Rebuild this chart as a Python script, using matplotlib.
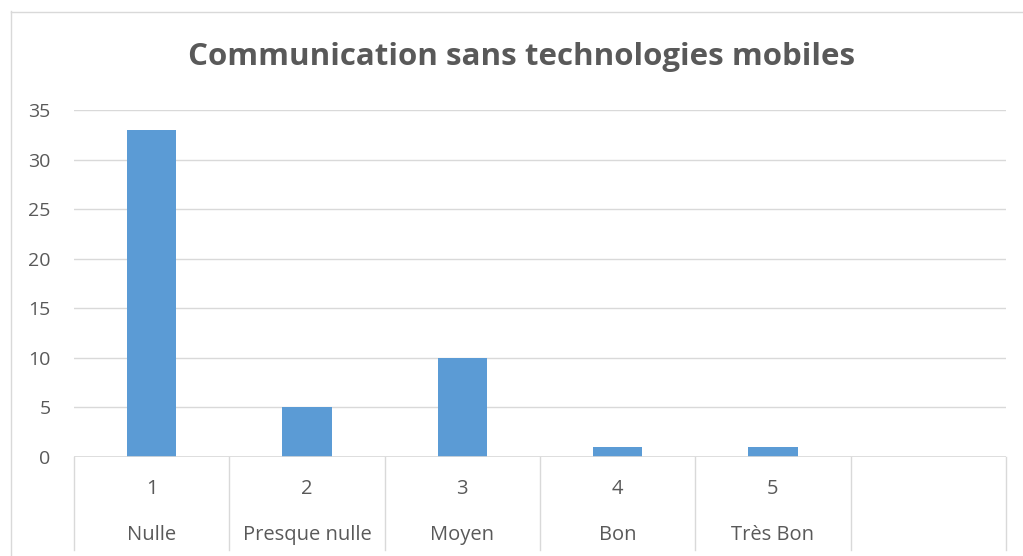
import matplotlib
matplotlib.use("Agg")
import matplotlib.pyplot as plt
from matplotlib.lines import Line2D
import matplotlib.transforms as mtransforms

codes = ["1", "2", "3", "4", "5", ""]
labels = ["Nulle", "Presque nulle", "Moyen", "Bon", "Très Bon", ""]
values = [33, 5, 10, 1, 1, 0]
yticks = [0, 5, 10, 15, 20, 25, 30, 35]
title = "Communication sans technologies mobiles"

W, H = 1023, 556
plt.rcParams['font.family'] = ['Open Sans', 'DejaVu Sans']
fig = plt.figure(figsize=(W / 100, H / 100), dpi=100)
fig.patch.set_facecolor("white")

def fx(px):
    return px / W

def fy(py):
    return 1 - py / H

# chart border
fig.add_artist(Line2D([fx(10.5), fx(10.5)], [fy(11), fy(556)], color="#D9D9D9", lw=1))
fig.add_artist(Line2D([fx(10.5), fx(1023)], [fy(11.5), fy(11.5)], color="#D9D9D9", lw=1))

left, right, top, bottom = 74, 1006, 110, 457
ax = fig.add_axes([fx(left), fy(bottom), fx(right - left), fy(top) - fy(bottom)])
n = len(codes)
x = list(range(n))
ax.bar(x[:5], values[:5], width=0.316, color="#5B9BD5", zorder=3)
ax.set_xlim(-0.5, n - 0.5)
ax.set_ylim(0, 35)
ax.set_yticks(yticks)
ax.set_yticklabels([str(t) for t in yticks], color="#595959", fontsize=14)
ax.tick_params(axis="y", length=0, pad=17)
ax.set_xticks([])
for s in ax.spines.values():
    s.set_visible(False)
ax.grid(axis="y", color="#D9D9D9", lw=1, zorder=0)
ax.axhline(0, color="#D9D9D9", lw=1.2, zorder=4)

trans = mtransforms.blended_transform_factory(ax.transData, ax.transAxes)
ybot = -(550 - bottom) / (bottom - top)
for i in range(n + 1):
    ax.plot([i - 0.5, i - 0.5], [0, ybot], color="#D9D9D9", lw=1, transform=trans, clip_on=False)

y_code = -(489 - bottom) / (bottom - top)
y_lab = -(535 - bottom) / (bottom - top)
for i in range(n):
    ax.text(i, y_code, codes[i], transform=trans, ha="center", va="center", color="#595959", fontsize=14.5)
    ax.text(i, y_lab, labels[i], transform=trans, ha="center", va="center", color="#595959", fontsize=14.5)

fig.text(fx(522), fy(57), title, ha="center", va="center", color="#595959", fontsize=22.5, fontweight="bold")

fig.savefig("out.png", dpi=100)
